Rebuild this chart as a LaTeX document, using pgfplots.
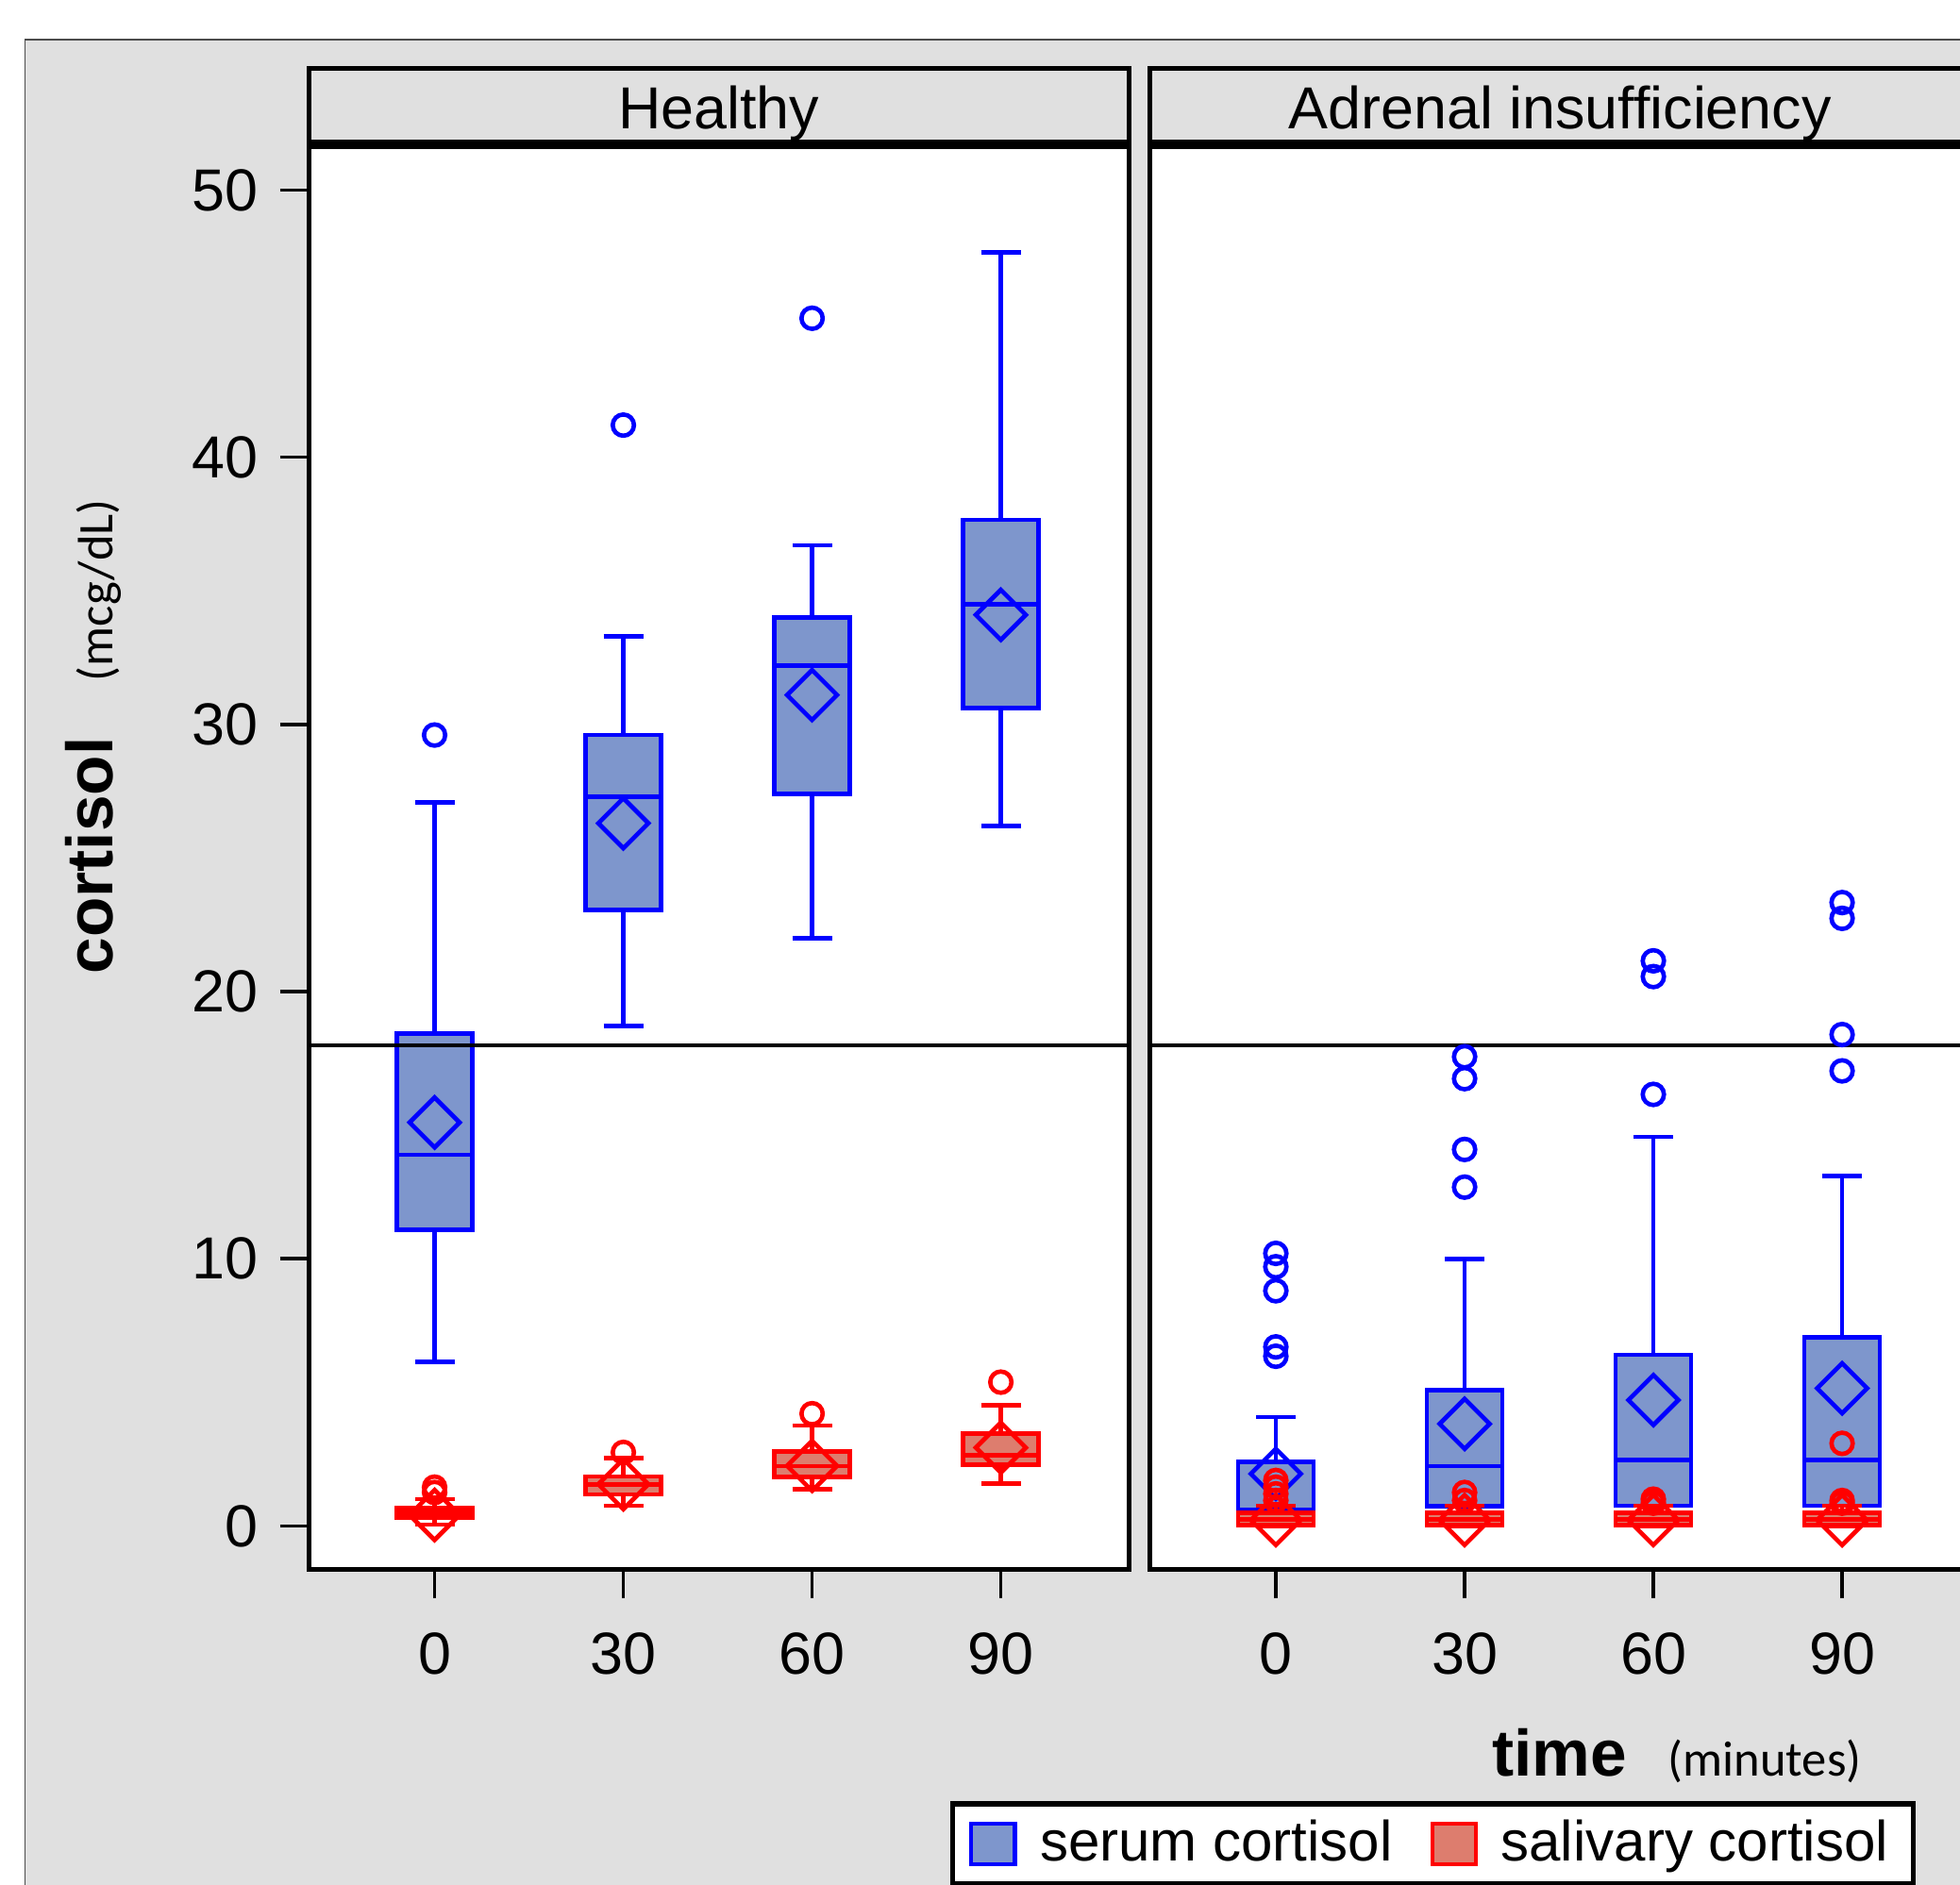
\documentclass[border=0pt]{standalone}
\usepackage{fontspec}
\setmainfont{Liberation Sans}
\newfontfamily\calib{Carlito}
\usepackage{pgfplots}
\pgfplotsset{compat=1.18}
\usepgfplotslibrary{statistics}
\definecolor{bg}{RGB}{224,224,224}
\definecolor{serumfill}{RGB}{126,150,204}
\definecolor{salfill}{RGB}{221,125,110}
\definecolor{serumline}{RGB}{0,0,255}
\definecolor{salline}{RGB}{255,0,0}
\tikzset{
  serum/.style={draw=serumline, fill=serumfill, line width=1.0pt},
  sal/.style={draw=salline, fill=salfill, line width=1.0pt},
}
\pgfplotsset{
  panel/.style={
    scale only axis, width=65.6mm, height=113.9mm,
    xmin=-20, xmax=110.33, ymin=-1.637, ymax=51.64,
    axis background/.style={fill=white},
    axis line style={line width=1.1pt},
    xtick={0,30,60,90},
    tick align=outside, major tick length=2.3mm,
    tick pos=left,
    tick style={line width=0.8pt, black},
    ticklabel style={font=\fontsize{13.5}{16}\selectfont},
    xticklabel style={yshift=-1.5mm},
    yticklabel style={xshift=-0.5mm},
    /pgf/number format/assume math mode=true,
  },
  meanS/.style={only marks, mark=square, mark size=1.414mm, serumline, mark options={rotate=45, draw=serumline, line width=1.0pt, fill=none}, forget plot},
  meanR/.style={only marks, mark=square, mark size=1.414mm, salline, mark options={rotate=45, draw=salline, line width=1.0pt, fill=none}, forget plot},
  outS/.style={only marks, mark=o, mark size=0.85mm, serumline, mark options={line width=1.0pt}, forget plot},
  outR/.style={only marks, mark=o, mark size=0.85mm, salline, mark options={line width=1.0pt}, forget plot},
}
\newcommand{\bx}[7]{% style, pos, lw, q1, med, q3, uw
  \addplot[#1, forget plot, boxplot/draw direction=y, boxplot prepared={draw position=#2, box extend=12, whisker extend=6.3,
    lower whisker=#3, lower quartile=#4, median=#5, upper quartile=#6, upper whisker=#7}] coordinates {};}
\begin{document}
\begin{tikzpicture}
\path[use as bounding box] (0,0) rectangle (156.8mm,-150.8mm);
\clip (0,0) rectangle (156.8mm,-150.8mm);
\fill[white] (0,0) rectangle (156.8mm,-150.8mm);
\filldraw[fill=bg, draw=black!70, line width=0.4pt] (2.0mm,-3.2mm) rectangle (170mm,-170mm);
% headers
\filldraw[fill=bg, draw=black, line width=1.1pt] (24.7mm,-5.5mm) rectangle (90.3mm,-11.4mm);
\filldraw[fill=bg, draw=black, line width=1.1pt] (92.0mm,-5.5mm) rectangle (157.6mm,-11.4mm);
\node[anchor=base, inner sep=0] at (57.5mm,-10.3mm) {\fontsize{13.5}{16}\selectfont Healthy};
\node[anchor=base, inner sep=0] at (124.8mm,-10.3mm) {\fontsize{13.5}{16}\selectfont Adrenal insufficiency};

% ---------------- Healthy
\begin{axis}[panel, at={(24.7mm,-125.6mm)}, anchor=south west, ytick={0,10,20,30,40,50}]
\bx{serum}{0}{6.13}{11.09}{13.89}{18.43}{27.08}
\bx{serum}{30}{18.7}{23.06}{27.3}{29.6}{33.3}
\bx{serum}{60}{22.0}{27.4}{32.2}{34.0}{36.7}
\bx{serum}{90}{26.2}{30.6}{34.5}{37.65}{47.66}
\addplot[meanS] coordinates {(0,15.1) (30,26.3) (60,31.1) (90,34.1)};
\addplot[outS] coordinates {(0,29.6) (30,41.2) (60,45.2)};
\bx{sal}{0}{0.05}{0.32}{0.5}{0.67}{1.0}
\bx{sal}{30}{0.76}{1.18}{1.56}{1.85}{2.53}
\bx{sal}{60}{1.38}{1.83}{2.24}{2.79}{3.76}
\bx{sal}{90}{1.58}{2.30}{2.64}{3.46}{4.52}
\addplot[outR] coordinates {(0,1.45) (0,1.25) (30,2.75) (60,4.2) (90,5.38)};
\addplot[meanR] coordinates {(0,0.41) (30,1.56) (60,2.25) (90,2.93)};
\addplot[black, line width=0.9pt, forget plot] coordinates {(-20,18) (110.33,18)};
\end{axis}

% ---------------- Adrenal insufficiency
\begin{axis}[panel, at={(92.0mm,-125.6mm)}, anchor=south west, ytick=\empty,
  legend style={at={(0.3453,-0.1927)}, anchor=center, draw=black, line width=1.1pt, fill=white,
    font=\fontsize{12.9}{15}\selectfont, inner xsep=1.3mm, inner ysep=0.6mm,
    /tikz/every even column/.append style={column sep=2.3mm}},
  legend columns=2]
\bx{serum}{0}{0.1}{0.45}{0.6}{2.39}{4.08}
\bx{serum}{30}{0.1}{0.73}{2.24}{5.09}{10.0}
\bx{serum}{60}{0.1}{0.75}{2.46}{6.4}{14.56}
\bx{serum}{90}{0.1}{0.75}{2.46}{7.05}{13.09}
\addplot[meanS] coordinates {(0,1.95) (30,3.82) (60,4.71) (90,5.15)};
\addplot[outS] coordinates {(0,10.2) (0,9.7) (0,8.8) (0,6.7) (0,6.35)
  (30,17.56) (30,16.74) (30,14.09) (30,12.68)
  (60,21.15) (60,20.56) (60,16.15)
  (90,23.33) (90,22.74) (90,18.39) (90,17.03)};
\bx{sal}{0}{0.0}{0.03}{0.25}{0.5}{0.75}
\bx{sal}{30}{0.0}{0.03}{0.25}{0.5}{0.75}
\bx{sal}{60}{0.0}{0.03}{0.25}{0.5}{0.75}
\bx{sal}{90}{0.0}{0.03}{0.25}{0.5}{0.75}
\addplot[outR] coordinates {(0,1.7) (0,1.45) (0,1.2) (0,0.95) (30,1.25) (30,0.95) (60,1.0) (60,0.85) (90,3.09) (90,0.95) (90,0.85)};
\addplot[meanR] coordinates {(0,0.22) (30,0.22) (60,0.22) (90,0.22)};
\addplot[black, line width=0.9pt, forget plot] coordinates {(-20,18) (110.33,18)};
\addlegendimage{legend image code/.code={\draw[serum, line width=0.9pt] (0mm,-1.65mm) rectangle (3.5mm,1.65mm); \path[draw=none, fill=none] (0mm,0mm) rectangle (4.8mm,0.1mm);}}
\addlegendentry{serum cortisol}
\addlegendimage{legend image code/.code={\draw[sal, line width=0.9pt] (0mm,-1.65mm) rectangle (3.5mm,1.65mm); \path[draw=none, fill=none] (0mm,0mm) rectangle (4.8mm,0.1mm);}}
\addlegendentry{salivary cortisol}
\end{axis}

% axis titles
\node[rotate=90, anchor=base west, inner sep=0] at (9.0mm,-78.0mm)
  {\fontsize{14.9}{17}\selectfont\bfseries cortisol\hspace{4.5mm}{\normalfont\calib\fontsize{11.3}{13}\selectfont (mcg/dL)}};
\node[anchor=base west, inner sep=0] at (119.3mm,-142.1mm)
  {\fontsize{14.9}{17}\selectfont\bfseries time\hspace{3.3mm}{\normalfont\calib\fontsize{11.3}{13}\selectfont (minutes)}};
\end{tikzpicture}
\end{document}
